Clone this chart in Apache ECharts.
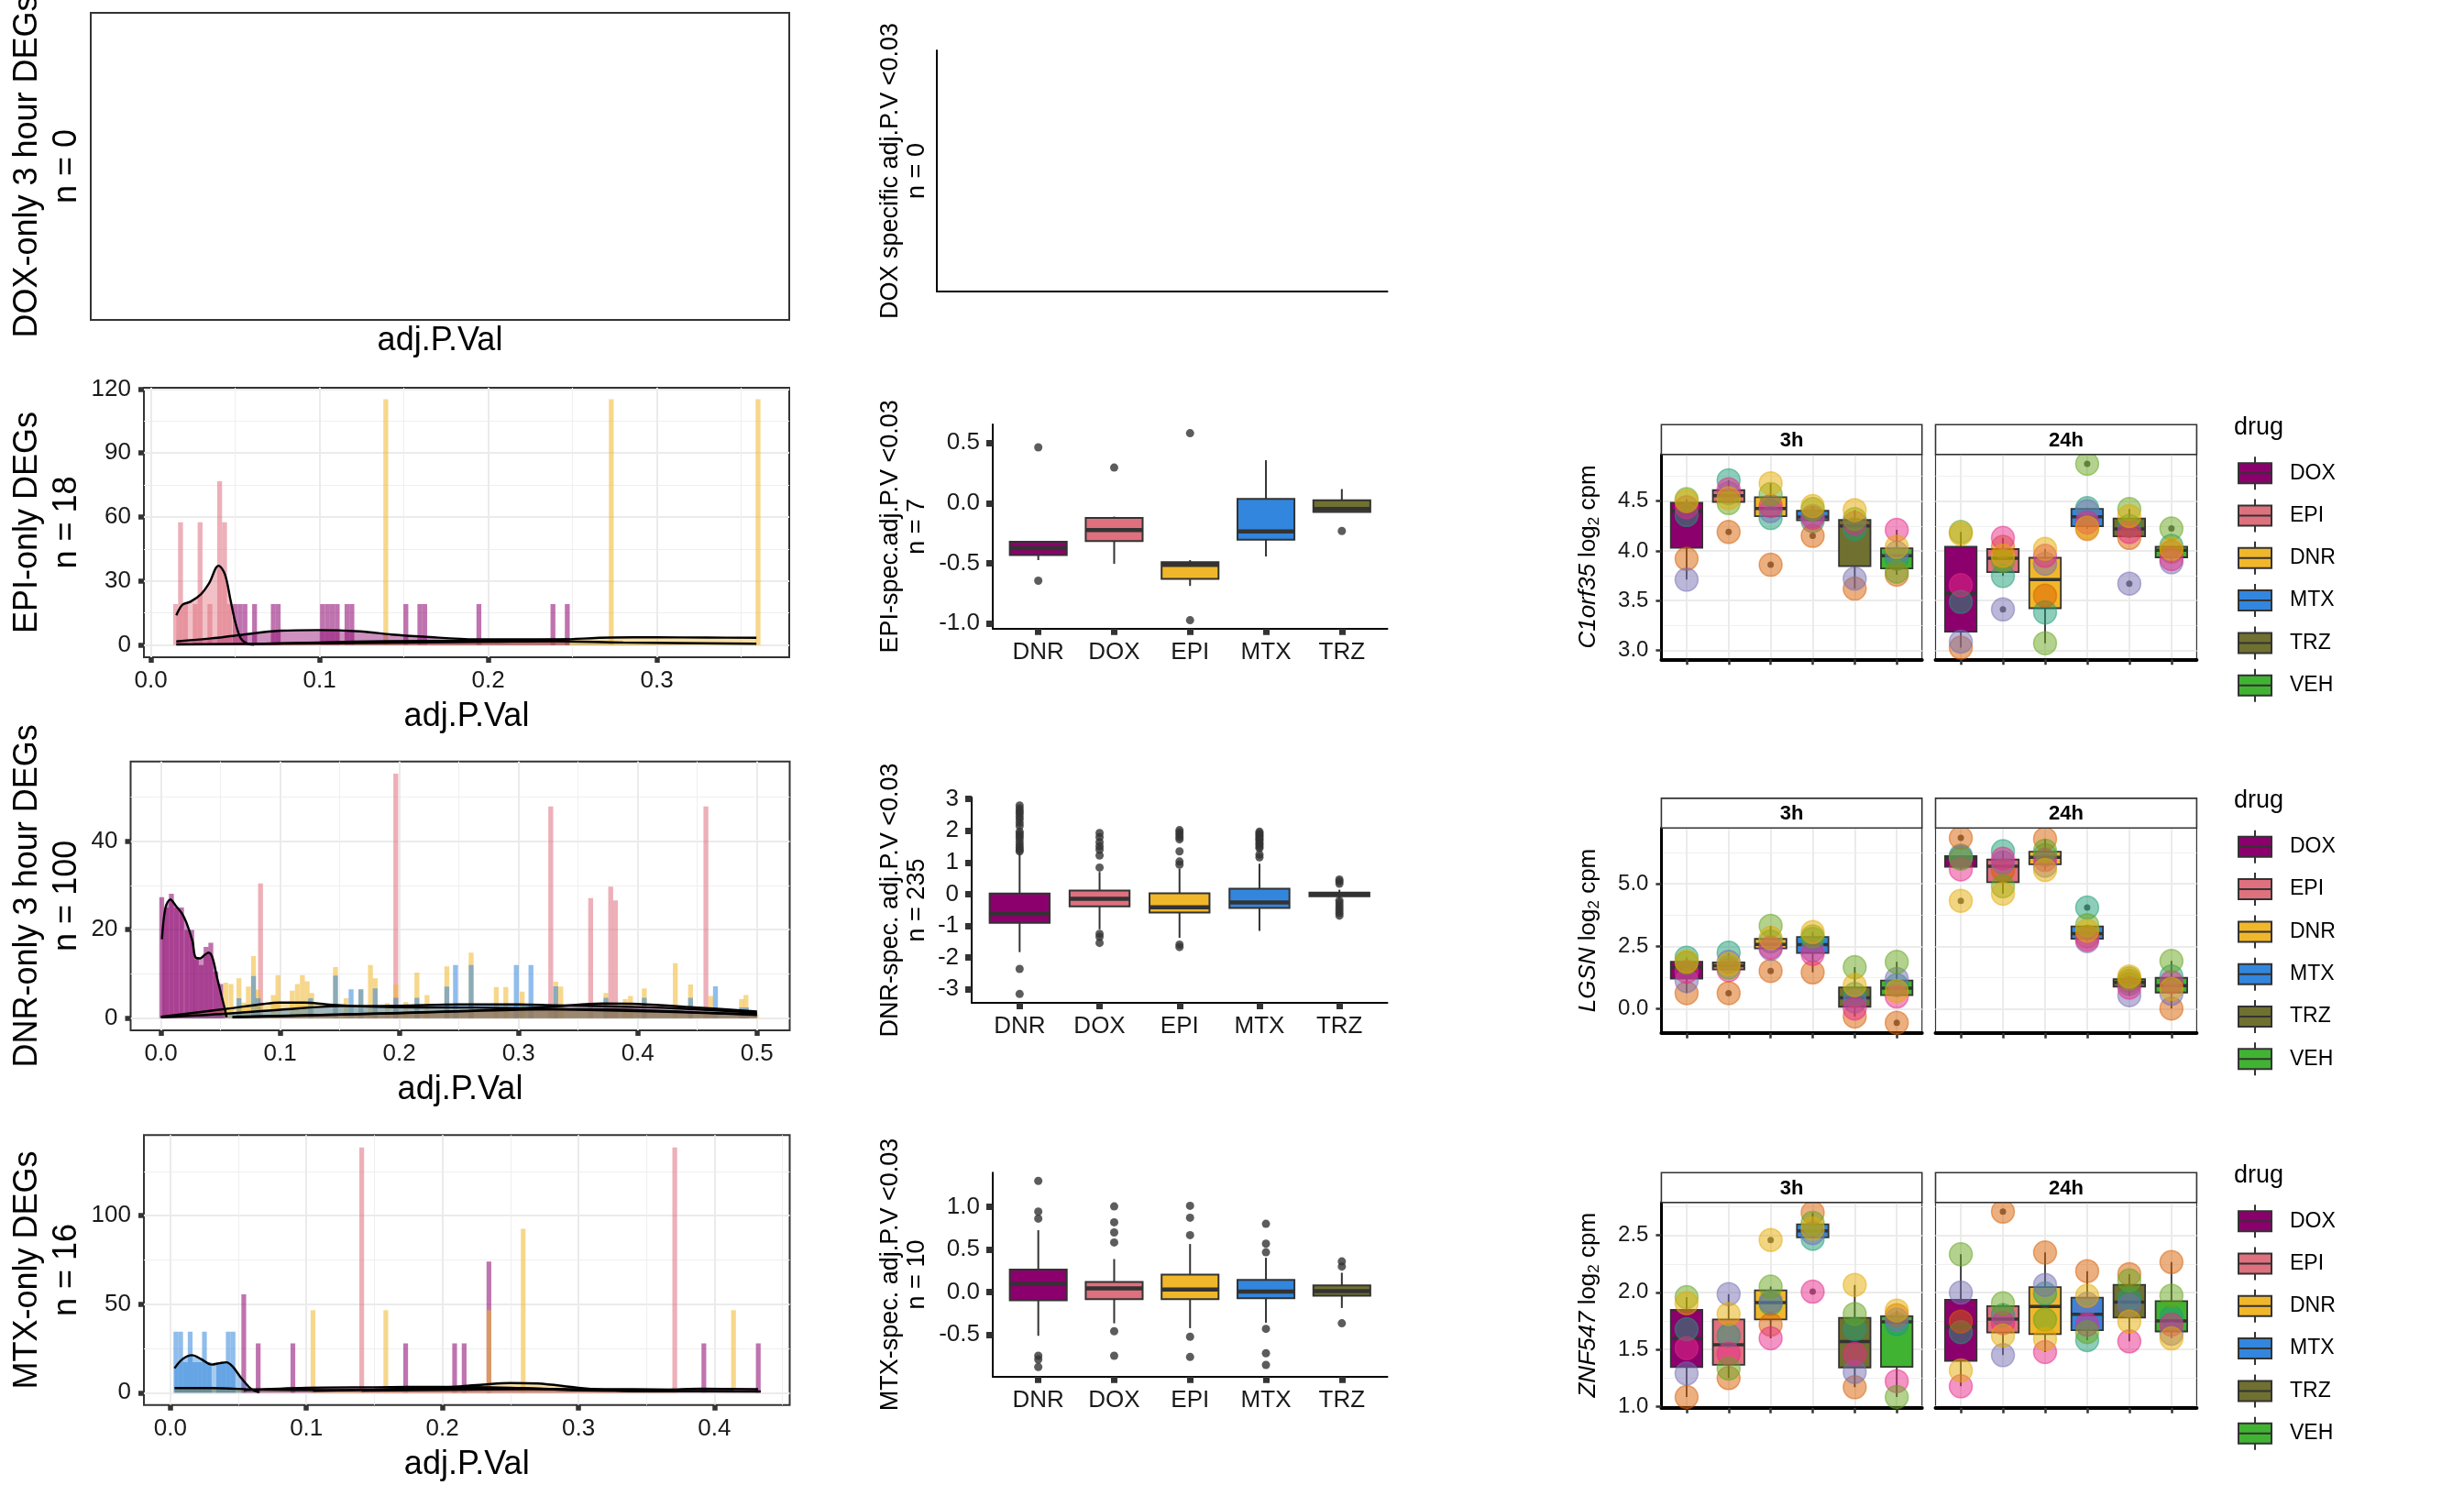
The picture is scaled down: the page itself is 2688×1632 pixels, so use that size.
<!DOCTYPE html>
<html>
<head>
<meta charset="utf-8">
<title>DEG panels</title>
<script src="https://cdn.jsdelivr.net/npm/echarts@6.0.0/dist/echarts.min.js"></script>
<style>
html,body{margin:0;padding:0;background:#ffffff;}
#chart{width:2688px;height:1632px;}
</style>
</head>
<body>
<div id="chart"></div>
<script>
// ================= DATA =================
const BOX_DRUGS = ['DNR','DOX','EPI','MTX','TRZ'];
const BOX_COLORS = ['#8B006D','#DF707E','#F1B72B','#3386DD','#707031'];
const FACET_DRUGS = ['DOX','EPI','DNR','MTX','TRZ','VEH'];
const FACET_COLORS = ['#8B006D','#DF707E','#F1B72B','#3386DD','#707031','#41B333'];
const INDIV_COLORS = ['#1B9E77','#D95F02','#7570B3','#E7298A','#66A61E','#E6AB02'];
const TIMES = ['3h','24h'];
const HIST_COLORS = {purple:'#8B006D', pink:'#DF707E', yellow:'#F1B72B', blue:'#3386DD', olive:'#707031'};

// ---- histogram panel: EPI-only DEGs (bin centre, density) ----
const EPI_BW = 0.00289;
const EPI_H_PINK = [[0.0147,19.2],[0.0176,57.5],[0.0205,19.2],[0.0263,19.2],[0.0292,57.5],[0.0350,19.2],[0.0408,76.8],[0.0437,57.5],[0.0466,19.2]];
const EPI_H_PURPLE = [[0.0500,19.2],[0.0529,19.2],[0.0558,19.2],[0.0615,19.2],[0.0726,19.2],[0.0755,19.2],[0.1018,19.2],[0.1047,19.2],[0.1076,19.2],[0.1105,19.2],[0.1163,19.2],[0.1192,19.2],[0.1512,19.2],[0.1595,19.2],[0.1624,19.2],[0.1945,19.2],[0.2384,19.2],[0.2469,19.2]];
const EPI_H_YELLOW = [[0.1393,115.2],[0.2730,115.2],[0.3600,115.2]];
const EPI_D_PINK = [[0.0151,13.9],[0.0188,18.9],[0.0235,20.3],[0.0298,23.9],[0.0345,28.9],[0.0402,37.2],[0.0439,33.2],[0.0471,21.7],[0.0502,10.3],[0.0533,3.1],[0.0565,0.9],[0.0612,0.1]];
const EPI_D_PURPLE = [[0.0151,1.7],[0.036,3.1],[0.0518,4.6],[0.0769,6.7],[0.0988,7.0],[0.1239,6.4],[0.1428,4.9],[0.1616,3.9],[0.193,2.7],[0.2243,2.7],[0.2482,2.7]];
const EPI_D_YELLOW = [[0.0612,0.5],[0.10,1.2],[0.14,1.8],[0.20,2.0],[0.243,2.6],[0.273,3.5],[0.30,3.6],[0.33,3.5],[0.359,3.4]];
const EPI_D_OLIVE = [[0.0151,0.3],[0.10,0.8],[0.20,1.5],[0.24,1.8],[0.28,1.2],[0.359,0.6]];

// ---- histogram panel: DNR-only 3 hour DEGs ----
const DNR_BW = 0.0041;
const DNR_H_PURPLE = [[0.0006,27.3],[0.0045,25.0],[0.0087,28.1],[0.0129,25.0],[0.0172,25.0],[0.0217,19.9],[0.0258,19.9],[0.0296,13.3],[0.0337,12.0],[0.0378,16.1],[0.0418,17.0],[0.0460,10.5],[0.0501,7.7]];
const DNR_H_PINK = [[0.0835,30.4],[0.1970,55.2],[0.3270,47.8],[0.3605,27.1],[0.3773,29.7],[0.3813,26.6],[0.4572,47.8]];
const DNR_H_YELLOW = [[0.0543,8.0],[0.0587,7.7],[0.0654,9.0],[0.0693,3.5],[0.0733,7.1],[0.0776,14.0],[0.0815,6.4],[0.0942,5.2],[0.0981,9.7],[0.1101,6.2],[0.1144,7.7],[0.1186,9.7],[0.1226,8.3],[0.1265,5.7],[0.1464,11.5],[0.1553,4.5],[0.1677,6.5],[0.1757,12.0],[0.1797,9.0],[0.1899,3.4],[0.1970,7.6],[0.2054,3.6],[0.2147,10.3],[0.2232,5.2],[0.2398,11.7],[0.2602,14.8],[0.2813,7.0],[0.2893,7.0],[0.3030,6.0],[0.3312,8.2],[0.3354,7.1],[0.3733,5.7],[0.3895,4.3],[0.3939,5.0],[0.4055,6.7],[0.4315,12.4],[0.4443,7.6],[0.4612,5.0],[0.4871,4.3],[0.4908,5.2],[0.4993,0.8]];
const DNR_H_BLUE = [[0.0654,4.5],[0.0776,9.5],[0.0815,4.5],[0.1255,4.5],[0.1464,9.6],[0.1595,6.5],[0.1677,6.5],[0.1797,6.7],[0.1970,4.6],[0.2147,4.6],[0.2398,7.1],[0.2471,12.0],[0.2602,12.0],[0.2981,12.0],[0.3104,12.0],[0.3312,7.2],[0.3733,4.6],[0.4055,4.6],[0.4443,4.6],[0.4652,7.2],[0.4871,2.4],[0.4912,2.4]];
const DNR_D_PURPLE = [[0.0008,17.8],[0.0038,25.0],[0.0079,26.8],[0.0123,25.4],[0.0174,23.7],[0.0213,21.6],[0.0264,17.4],[0.029,13.7],[0.0328,13.5],[0.0367,14.3],[0.040,14.8],[0.0431,13.7],[0.047,9.2],[0.0508,5.0],[0.0533,2.3],[0.0551,0.2]];
const DNR_D_YELLOW = [[0.0,0.3],[0.055,2.1],[0.086,3.2],[0.099,3.5],[0.121,3.5],[0.139,3.1],[0.174,2.6],[0.219,2.4],[0.263,2.4],[0.307,2.2],[0.35,1.9],[0.40,1.6],[0.45,1.2],[0.50,0.9]];
const DNR_D_BLUE = [[0.0,0.2],[0.05,0.9],[0.10,1.9],[0.15,2.7],[0.20,2.8],[0.25,3.1],[0.30,3.1],[0.33,2.9],[0.40,2.5],[0.44,2.1],[0.50,1.2]];
const DNR_D_PINK = [[0.06,0.2],[0.15,0.8],[0.25,1.6],[0.33,2.6],[0.37,3.3],[0.40,3.2],[0.45,2.4],[0.50,1.5]];
const DNR_D_OLIVE = [[0.06,0.3],[0.15,0.8],[0.25,1.5],[0.30,1.9],[0.35,2.0],[0.40,1.8],[0.45,1.3],[0.50,0.7]];

// ---- histogram panel: MTX-only DEGs ----
const MTX_BW = 0.0035;
const MTX_H_BLUE = [[0.0041,34.5],[0.0076,34.5],[0.0111,17.2],[0.0146,34.5],[0.0181,17.2],[0.0216,17.2],[0.0251,34.5],[0.0286,17.2],[0.0356,17.2],[0.0391,17.2],[0.0426,34.5],[0.0461,34.5]];
const MTX_H_PURPLE = [[0.0540,55.5],[0.0646,27.9],[0.0901,27.9],[0.1730,27.9],[0.2090,27.9],[0.2160,27.9],[0.2342,74.1],[0.3922,27.9],[0.4322,27.9]];
const MTX_H_YELLOW = [[0.1049,46.6],[0.1584,46.6],[0.2342,46.6],[0.2594,92.6],[0.4140,46.6]];
const MTX_H_PINK = [[0.1407,138.6],[0.3708,138.6]];
const MTX_D_BLUE = [[0.0031,13.8],[0.009,19.0],[0.016,21.2],[0.0226,19.0],[0.0304,15.9],[0.0362,16.7],[0.0412,17.2],[0.0459,14.7],[0.0518,8.6],[0.0576,3.4],[0.0615,1.2],[0.0654,0.3]];
const MTX_D_OLIVE = [[0.0031,2.6],[0.03,2.6],[0.065,1.8],[0.12,1.5],[0.20,2.2],[0.25,2.6],[0.30,1.4],[0.36,0.9],[0.434,0.7]];
const MTX_D_PURPLE = [[0.054,1.5],[0.10,2.8],[0.15,3.1],[0.20,3.3],[0.25,2.8],[0.30,1.6],[0.35,1.2],[0.39,2.2],[0.432,2.0]];
const MTX_D_YELLOW = [[0.105,1.0],[0.15,1.8],[0.20,3.0],[0.23,4.6],[0.25,5.5],[0.27,5.2],[0.30,2.8],[0.33,1.2],[0.37,0.8],[0.414,0.8]];
const MTX_D_PINK = [[0.1407,1.2],[0.20,1.6],[0.26,1.9],[0.32,2.0],[0.3708,1.8]];

// ---- specific-gene boxplots: [lower whisker, Q1, median, Q3, upper whisker] per drug (DNR, DOX, EPI, MTX, TRZ) ----
const EPI_SPEC_BOX = [[-0.474,-0.431,-0.375,-0.321,-0.321],[-0.505,-0.316,-0.224,-0.122,-0.112],[-0.689,-0.630,-0.513,-0.490,-0.474],[-0.444,-0.304,-0.235,0.036,0.357],[-0.074,-0.074,-0.048,0.023,0.117]];
const EPI_SPEC_OUT = [[1,0.464],[1,-0.645],[2,0.296],[3,0.582],[3,-0.974],[5,-0.232]];
const DNR_SPEC_BOX = [[-1.83,-0.906,-0.626,0.02,1.30],[-1.11,-0.385,-0.145,0.116,0.70],[-1.38,-0.578,-0.414,0.03,0.80],[-1.16,-0.434,-0.26,0.173,0.96],[-0.15,-0.07,-0.01,0.05,0.14]];
const DNR_SPEC_OUT = [[1,2.80],[1,2.70],[1,2.62],[1,2.55],[1,2.45],[1,2.36],[1,2.25],[1,2.15],[1,1.97],[1,1.90],[1,1.83],[1,1.75],[1,1.64],[1,1.55],[1,1.47],[1,1.40],[1,1.35],[1,-2.36],[1,-3.15],
  [2,1.93],[2,1.80],[2,1.64],[2,1.51],[2,1.40],[2,1.22],[2,0.84],[2,-1.25],[2,-1.35],[2,-1.54],
  [3,2.02],[3,1.95],[3,1.88],[3,1.80],[3,1.73],[3,1.35],[3,1.03],[3,0.93],[3,-1.59],[3,-1.67],
  [4,1.97],[4,1.92],[4,1.88],[4,1.83],[4,1.78],[4,1.73],[4,1.69],[4,1.62],[4,1.57],[4,1.50],[4,1.45],[4,1.25],[4,1.16],
  [5,0.46],[5,0.40],[5,0.33],[5,-0.20],[5,-0.28],[5,-0.36],[5,-0.44],[5,-0.52],[5,-0.60],[5,-0.68]];
const MTX_SPEC_BOX = [[-0.514,-0.097,0.094,0.263,0.727],[-0.367,-0.083,0.043,0.119,0.388],[-0.424,-0.083,0.029,0.205,0.565],[-0.36,-0.072,0.007,0.144,0.403],[-0.187,-0.043,0.011,0.079,0.227]];
const MTX_SPEC_OUT = [[1,1.306],[1,0.946],[1,0.863],[1,-0.748],[1,-0.791],[1,-0.881],
  [2,1.007],[2,0.82],[2,0.70],[2,0.583],[2,-0.46],[2,-0.748],
  [3,1.014],[3,0.874],[3,0.669],[3,-0.525],[3,-0.763],
  [4,0.802],[4,0.568],[4,0.468],[4,-0.432],[4,-0.719],[4,-0.856],
  [5,0.36],[5,0.30],[5,-0.367]];

// ---- gene expression (log2 cpm); rows = individuals, columns = 3h DOX..VEH then 24h DOX..VEH ----
const C1ORF35 = [
  [4.36,4.71,4.33,4.30,4.22,3.92, 3.486,3.747,3.38,4.43,4.25,4.05],
  [3.92,4.19,3.86,4.15,3.62,3.76, 3.025,4.04,3.55,4.22,4.13,3.99],
  [3.71,4.58,4.40,4.35,3.72,3.98, 3.086,3.41,3.87,4.40,3.67,3.885],
  [4.44,4.62,4.45,4.33,4.28,4.21, 3.655,4.13,3.95,4.285,4.19,3.916],
  [4.52,4.48,4.57,4.42,4.32,3.79, 4.19,3.90,3.07,4.875,4.42,4.224],
  [4.50,4.53,4.68,4.45,4.41,4.04, 4.17,3.95,4.02,4.235,4.35,4.02]];
const LGSN = [
  [2.05,2.25,2.70,2.80,0.60,0.95, 6.12,6.30,6.15,4.05,1.00,1.30],
  [0.634,0.63,1.52,1.46,-0.30,-0.55, 6.83,5.54,6.79,2.89,1.12,0.02],
  [1.12,1.88,2.40,2.34,0.30,1.20, 6.05,5.85,5.72,2.71,0.55,0.61],
  [1.49,1.55,2.46,2.20,0.02,0.50, 5.57,6.00,5.95,2.77,0.85,1.07],
  [1.85,1.65,3.32,2.90,1.67,1.88, 6.00,4.90,6.32,3.35,1.22,1.915],
  [1.90,1.80,2.83,3.07,0.95,0.72, 4.32,4.60,5.55,3.13,1.30,0.80]];
const ZNF547 = [
  [1.676,1.62,1.90,2.47,1.676,1.72, 1.65,1.80,1.99,1.58,1.946,1.78],
  [1.08,1.247,1.716,2.70,1.166,1.80, 1.743,2.709,2.35,2.186,2.16,2.266],
  [1.287,1.985,1.92,2.52,1.30,1.76, 1.998,1.448,2.065,1.90,1.883,1.636],
  [1.51,1.46,1.596,2.006,1.46,1.22, 1.174,1.73,1.475,1.716,1.569,1.716],
  [1.958,1.33,2.05,2.61,1.81,1.08, 2.334,1.904,1.76,1.65,2.105,1.971],
  [1.904,1.81,2.46,2.56,2.065,1.84, 1.314,1.62,1.59,1.97,1.743,1.595]];

// tick labels
const HIST_X_TICKS = [[0,0.1,0.2,0.3],[0,0.1,0.2,0.3,0.4,0.5],[0,0.1,0.2,0.3,0.4]];
const HIST_Y_TICKS = [[0,30,60,90,120],[0,20,40],[0,50,100]];

// ================= LAYOUT / HELPERS =================
const FONT = '"Liberation Sans", Arial, Helvetica, sans-serif';
const grids = [], xAxes = [], yAxes = [], series = [], graphics = [], legends = [];

function rgba(hex, a) {
  const n = parseInt(hex.slice(1), 16);
  return 'rgba(' + ((n >> 16) & 255) + ',' + ((n >> 8) & 255) + ',' + (n & 255) + ',' + a + ')';
}
function addGrid(g) { grids.push(Object.assign({containLabel:false}, g)); return grids.length - 1; }

function axisPair(gi, dim, c) {
  const arr = dim === 'x' ? xAxes : yAxes;
  const ax = {
    type:'value', gridIndex:gi, min:c.min, max:c.max, position: dim === 'x' ? 'bottom' : 'left',
    axisLine:{show:!!c.line, onZero:false, lineStyle:{color:'#000', width:c.line ? c.line : 1}},
    axisTick:{show:!!c.tick, customValues:c.major || [], length:c.tick ? c.tick[0] : 5,
      lineStyle:{color:'#333333', width:c.tick ? c.tick[1] : 1}},
    axisLabel:{show:!!c.label, customValues:c.major || [], fontSize:c.label ? c.label.size : 12,
      fontFamily:FONT, color:'#1a1a1a', margin:c.label ? c.label.margin : 8,
      formatter:c.label ? c.label.fmt : undefined},
    splitLine:{show:!!c.grid, lineStyle:{color:'#EBEBEB', width:2}}
  };
  arr.push(ax);
  const idx = arr.length - 1;
  if (c.grid && c.minor) {
    arr.push({type:'value', gridIndex:gi, min:c.min, max:c.max, position: dim === 'x' ? 'top' : 'right',
      axisLine:{show:false}, axisTick:{show:false, customValues:c.minor},
      axisLabel:{show:false, customValues:c.minor},
      splitLine:{show:true, lineStyle:{color:'#EFEFEF', width:1}}});
  }
  return idx;
}

function text(x, y, str, size, o) {
  o = o || {};
  graphics.push({type:'text', x:x, y:y, rotation:o.rot || 0, z:50, silent:true,
    style:{text:str, fontSize:size, fontFamily:FONT, fill:'#000', align:o.align || 'center',
      verticalAlign:'middle', lineHeight:o.lh, fontWeight:o.bold ? 'bold' : 'normal', rich:o.rich}});
}

function histSeries(xi, yi, data, bw, color) {
  return {type:'custom', xAxisIndex:xi, yAxisIndex:yi, clip:true, z:2, silent:true, data:data,
    encode:{x:0, y:1},
    renderItem:function (params, api) {
      const x = api.value(0), h = api.value(1);
      const p0 = api.coord([x - bw / 2, 0]), p1 = api.coord([x + bw / 2, h]);
      return {type:'rect', shape:{x:p0[0], y:p1[1], width:p1[0] - p0[0], height:p0[1] - p1[1]},
        style:{fill:rgba(color, 0.55)}};
    }};
}
function densSeries(xi, yi, data, color) {
  return {type:'line', xAxisIndex:xi, yAxisIndex:yi, data:data, smooth:0.35, symbol:'none', z:3,
    silent:true, clip:true, lineStyle:{color:'#000', width:2.4}, areaStyle:{color:rgba(color, 0.62)}};
}
function boxRender(colorOf, halfW, lw, medW) {
  return function (params, api) {
    const x = api.value(0), lo = api.value(1), q1 = api.value(2), med = api.value(3), q3 = api.value(4), hi = api.value(5);
    const tl = api.coord([x - halfW, q3]), br = api.coord([x + halfW, q1]);
    const pLo = api.coord([x, lo]), pHi = api.coord([x, hi]), pQ1 = api.coord([x, q1]), pQ3 = api.coord([x, q3]);
    const pM = api.coord([x, med]);
    const stroke = '#333333';
    return {type:'group', children:[
      {type:'line', shape:{x1:pLo[0], y1:pLo[1], x2:pQ1[0], y2:pQ1[1]}, style:{stroke:stroke, lineWidth:lw}},
      {type:'line', shape:{x1:pHi[0], y1:pHi[1], x2:pQ3[0], y2:pQ3[1]}, style:{stroke:stroke, lineWidth:lw}},
      {type:'rect', shape:{x:tl[0], y:tl[1], width:br[0] - tl[0], height:br[1] - tl[1]},
        style:{fill:colorOf(x), stroke:stroke, lineWidth:lw}},
      {type:'line', shape:{x1:tl[0], y1:pM[1], x2:br[0], y2:pM[1]}, style:{stroke:stroke, lineWidth:medW}}
    ]};
  };
}
function quantile(s, p) {
  const h = (s.length - 1) * p, lo = Math.floor(h);
  const hiV = lo + 1 < s.length ? s[lo + 1] : s[lo];
  return s[lo] + (h - lo) * (hiV - s[lo]);
}
function boxStats(vals) {
  const s = vals.slice().sort(function (a, b) { return a - b; });
  const q1 = quantile(s, 0.25), med = quantile(s, 0.5), q3 = quantile(s, 0.75), iqr = q3 - q1;
  const lf = q1 - 1.5 * iqr, uf = q3 + 1.5 * iqr;
  const inside = s.filter(function (v) { return v >= lf && v <= uf; });
  return {lo:Math.min.apply(null, inside), q1:q1, med:med, q3:q3, hi:Math.max.apply(null, inside),
    out:s.filter(function (v) { return v < lf || v > uf; })};
}
const f1 = function (v) { return v.toFixed(1); };
const f0 = function (v) { return String(Math.round(v)); };

// ================= COLUMN 1: histograms =================
const C1 = [
  {left:99, top:14, width:762, height:335},
  {left:157, top:423, width:704, height:294},
  {left:142.5, top:830.7, width:719, height:293.3},
  {left:157, top:1238.3, width:704.5, height:294.4}];
const C1_TITLES = ['DOX-only 3 hour DEGs\nn = 0', 'EPI-only DEGs\nn = 18', 'DNR-only 3 hour DEGs\nn = 100', 'MTX-only DEGs\nn = 16'];
const HIST_PANELS = [
  {bw:EPI_BW, x:[-0.0041,0.3785], y:[-5.74,120.6], xMinor:[0.05,0.15,0.25,0.35], yMinor:[15,45,75,105],
    hist:[[EPI_H_PINK,'pink'],[EPI_H_PURPLE,'purple'],[EPI_H_YELLOW,'yellow']],
    dens:[[EPI_D_OLIVE,'olive'],[EPI_D_YELLOW,'yellow'],[EPI_D_PURPLE,'purple'],[EPI_D_PINK,'pink']]},
  {bw:DNR_BW, x:[-0.0255,0.5275], y:[-2.76,57.96], xMinor:[0.05,0.15,0.25,0.35,0.45], yMinor:[10,30,50],
    hist:[[DNR_H_PURPLE,'purple'],[DNR_H_PINK,'pink'],[DNR_H_YELLOW,'yellow'],[DNR_H_BLUE,'blue']],
    dens:[[DNR_D_YELLOW,'yellow'],[DNR_D_BLUE,'blue'],[DNR_D_PINK,'pink'],[DNR_D_OLIVE,'olive'],[DNR_D_PURPLE,'purple']]},
  {bw:MTX_BW, x:[-0.0194,0.4553], y:[-6.93,145.5], xMinor:[0.05,0.15,0.25,0.35,0.45], yMinor:[25,75,125],
    hist:[[MTX_H_BLUE,'blue'],[MTX_H_PURPLE,'purple'],[MTX_H_YELLOW,'yellow'],[MTX_H_PINK,'pink']],
    dens:[[MTX_D_BLUE,'blue'],[MTX_D_OLIVE,'olive'],[MTX_D_PURPLE,'purple'],[MTX_D_YELLOW,'yellow'],[MTX_D_PINK,'pink']]}];

C1.forEach(function (g, r) {
  const gi = addGrid({left:g.left, top:g.top, width:g.width, height:g.height, show:true,
    borderColor:'#333333', borderWidth:2, backgroundColor:'transparent'});
  text(51.5, g.top + g.height / 2, C1_TITLES[r], 36, {rot:Math.PI / 2, lh:43});
  text(g.left + g.width / 2, g.top + g.height + (r === 0 ? 23 : 65), 'adj.P.Val', 36);
  if (r === 0) {
    xAxes.push({type:'value', gridIndex:gi, show:false, min:0, max:1});
    yAxes.push({type:'value', gridIndex:gi, show:false, min:0, max:1});
    return;
  }
  const p = HIST_PANELS[r - 1];
  const xi = axisPair(gi, 'x', {min:p.x[0], max:p.x[1], major:HIST_X_TICKS[r - 1], minor:p.xMinor,
    tick:[6,5.5], label:{size:26, margin:13, fmt:f1}, grid:true});
  const yi = axisPair(gi, 'y', {min:p.y[0], max:p.y[1], major:HIST_Y_TICKS[r - 1], minor:p.yMinor,
    tick:[6,5.5], label:{size:26, margin:14, fmt:f0}, grid:true});
  p.hist.forEach(function (h) { series.push(histSeries(xi, yi, h[0], p.bw, HIST_COLORS[h[1]])); });
  p.dens.forEach(function (d) { series.push(densSeries(xi, yi, d[0], HIST_COLORS[d[1]])); });
});

// ================= COLUMN 2: drug-specific boxplots =================
const C2 = [
  {left:1022, top:55, width:491.5, height:263},
  {left:1083, top:463, width:430.5, height:222.7},
  {left:1060, top:870, width:453.5, height:224},
  {left:1083, top:1279.3, width:430.5, height:222.4}];
const C2_TITLES = ['DOX specific adj.P.V <0.03\nn = 0', 'EPI-spec.adj.P.V <0.03\nn = 7',
  'DNR-spec. adj.P.V <0.03\nn = 235', 'MTX-spec. adj.P.V <0.03\nn = 10'];
const BOX_PANELS = [
  {y:[-1.0435,0.655], ticks:[-1,-0.5,0,0.5], fmt:f1, box:EPI_SPEC_BOX, out:EPI_SPEC_OUT},
  {y:[-3.43,3.05], ticks:[-3,-2,-1,0,1,2,3], fmt:f0, box:DNR_SPEC_BOX, out:DNR_SPEC_OUT},
  {y:[-0.993,1.403], ticks:[-0.5,0,0.5,1], fmt:f1, box:MTX_SPEC_BOX, out:MTX_SPEC_OUT}];

C2.forEach(function (g, r) {
  const gi = addGrid({left:g.left, top:g.top, width:g.width, height:g.height, show:false});
  text(986.5, g.top + g.height / 2, C2_TITLES[r], 27, {rot:Math.PI / 2, lh:29});
  if (r === 0) {
    axisPair(gi, 'x', {min:0, max:1, line:2});
    axisPair(gi, 'y', {min:0, max:1, line:2});
    return;
  }
  const p = BOX_PANELS[r - 1];
  const xi = axisPair(gi, 'x', {min:0.4, max:5.6, major:[1,2,3,4,5], line:2, tick:[7,7],
    label:{size:26, margin:13, fmt:function (v) { return BOX_DRUGS[Math.round(v) - 1]; }}});
  const yi = axisPair(gi, 'y', {min:p.y[0], max:p.y[1], major:p.ticks, line:2, tick:[7,7],
    label:{size:26, margin:14, fmt:p.fmt}});
  series.push({type:'custom', xAxisIndex:xi, yAxisIndex:yi, z:2, silent:true, encode:{x:0, y:[1,2,3,4,5]},
    data:p.box.map(function (b, i) { return [i + 1].concat(b); }),
    renderItem:boxRender(function (x) { return BOX_COLORS[Math.round(x) - 1]; }, 0.375, 2, 4.5)});
  series.push({type:'scatter', xAxisIndex:xi, yAxisIndex:yi, z:3, silent:true, symbolSize:9,
    itemStyle:{color:'#333333'}, data:p.out});
});

// ================= COLUMN 3: gene expression facets =================
const C3_X = [[1812.4,284.3],[2111.5,284.9]];
const STRIP_H = 32.4;
const GENE_ROWS = [
  {gene:'C1orf35', vals:C1ORF35, top:495.7, h:223.6, y:[2.908,4.97], major:[3,3.5,4,4.5], minor:[3.25,3.75,4.25,4.75]},
  {gene:'LGSN', vals:LGSN, top:903.3, h:223.4, y:[-0.951,7.223], major:[0,2.5,5], minor:[1.25,3.75,6.25]},
  {gene:'ZNF547', vals:ZNF547, top:1311.7, h:224, y:[0.986,2.79], major:[1,1.5,2,2.5], minor:[1.25,1.75,2.25,2.75]}];
const LEGEND_ICON = 'path://M18,0L18,7M0,7L36,7L36,29L0,29ZM0,18L36,18M18,29L18,36';

GENE_ROWS.forEach(function (g) {
  TIMES.forEach(function (t, ti) {
    const left = C3_X[ti][0], width = C3_X[ti][1];
    const gi = addGrid({left:left, top:g.top, width:width, height:g.h, show:true,
      borderColor:'#333333', borderWidth:1.2, backgroundColor:'transparent'});
    graphics.push({type:'rect', z:40, silent:true, shape:{x:left, y:g.top - STRIP_H, width:width, height:STRIP_H},
      style:{fill:'#ffffff', stroke:'#333333', lineWidth:1.6}});
    text(left + width / 2, g.top - STRIP_H / 2 + 1, t, 22, {bold:true});
    const xi = axisPair(gi, 'x', {min:0.4, max:6.6, major:[1,2,3,4,5,6], line:4, tick:[6,2.5], grid:true});
    const yi = axisPair(gi, 'y', {min:g.y[0], max:g.y[1], major:g.major, minor:g.minor, grid:true,
      line:ti === 0 ? 3 : 0, tick:ti === 0 ? [6,2.5] : null,
      label:ti === 0 ? {size:24, margin:14, fmt:f1} : null});
    const outliers = [], pts = [];
    FACET_DRUGS.forEach(function (d, di) {
      const vals = g.vals.map(function (row) { return row[ti * 6 + di]; });
      const st = boxStats(vals);
      series.push({type:'custom', name:d, xAxisIndex:xi, yAxisIndex:yi, z:2, silent:true, clip:true,
        itemStyle:{color:FACET_COLORS[di]}, encode:{x:0, y:[1,2,3,4,5]},
        data:[[di + 1, st.lo, st.q1, st.med, st.q3, st.hi]],
        renderItem:boxRender(function () { return FACET_COLORS[di]; }, 0.375, 1.8, 3.5)});
      st.out.forEach(function (v) { outliers.push([di + 1, v]); });
      vals.forEach(function (v, ii) {
        pts.push({value:[di + 1, v], itemStyle:{color:INDIV_COLORS[ii], borderColor:INDIV_COLORS[ii]}});
      });
    });
    series.push({type:'scatter', xAxisIndex:xi, yAxisIndex:yi, z:3, silent:true, symbolSize:7,
      itemStyle:{color:'#333333'}, data:outliers});
    series.push({type:'scatter', xAxisIndex:xi, yAxisIndex:yi, z:4, silent:true, symbolSize:25, clip:true,
      itemStyle:{opacity:0.5, borderWidth:1.5}, data:pts});
  });
  text(1733, g.top + g.h / 2, '{i|' + g.gene + '} {n|log}{s|2}{n| cpm}', 26, {rot:Math.PI / 2,
    rich:{i:{fontStyle:'italic', fontSize:26, fontFamily:FONT, lineHeight:30, verticalAlign:'middle'},
      n:{fontSize:26, fontFamily:FONT, lineHeight:30, verticalAlign:'middle'},
      s:{fontSize:17, fontFamily:FONT, lineHeight:17, verticalAlign:'bottom'}}});
  text(2437, g.top + 17.5 - 47, 'drug', 27, {align:'left'});
  legends.push({orient:'vertical', left:2441, top:g.top + 1.5, padding:0, itemWidth:36, itemHeight:36,
    itemGap:8.3, icon:LEGEND_ICON, selectedMode:false, data:FACET_DRUGS,
    itemStyle:{borderColor:'#333333', borderWidth:2},
    textStyle:{fontSize:23, fontFamily:FONT, color:'#000', padding:[0,0,0,15]}});
});

const chart = echarts.init(document.getElementById('chart'), null, {renderer:'canvas', width:2688, height:1632});
chart.setOption({
  animation:false, backgroundColor:'#ffffff', textStyle:{fontFamily:FONT},
  grid:grids, xAxis:xAxes, yAxis:yAxes, series:series, legend:legends, graphic:{elements:graphics}
});
</script>
</body>
</html>
